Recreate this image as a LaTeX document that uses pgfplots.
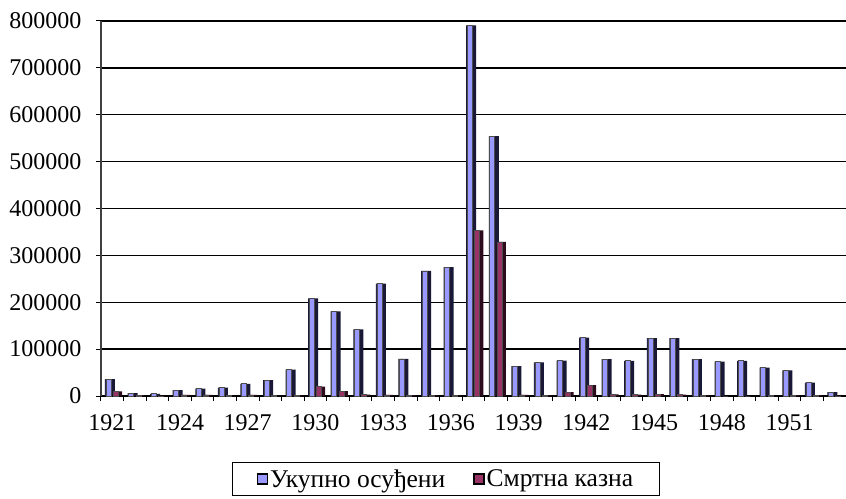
\documentclass[border=0pt]{standalone}
\usepackage{fontspec}
\setmainfont{Liberation Serif}
\usepackage{pgfplots}
\usepackage{pgfplotstable}
\pgfplotsset{compat=1.18}
\definecolor{bluef}{RGB}{153,153,255}
\definecolor{redf}{RGB}{153,51,102}
\definecolor{blueb}{RGB}{25,25,55}
\definecolor{redb}{RGB}{45,10,28}
\pgfplotstableread{
x tot death
0 35829 9701
1 6003 1962
2 4794 414
3 12425 2550
4 15995 2433
5 17804 990
6 26036 2363
7 33757 869
8 56220 2109
9 208068 20201
10 180696 10651
11 141919 2728
12 239664 2154
13 78999 2056
14 267076 1229
15 274670 1118
16 790665 353074
17 554258 328618
18 63889 2552
19 71806 1649
20 75411 8011
21 124406 23278
22 78441 3579
23 75109 3029
24 123248 4252
25 123294 2896
26 78810 1105
27 73269 0
28 75125 0
29 60641 475
30 54775 1609
31 28800 1612
32 8403 198
}\data
\begin{document}
\begin{tikzpicture}
\begin{axis}[name=ax, scale only axis, width=745pt, height=375pt,
  xmin=-0.5, xmax=32.5, ymin=0, ymax=800000,
  axis lines*=left,
  ybar,
  xtick={-0.5,0.5,...,32.5}, xticklabels={},
  extra x ticks={0,3,...,30},
  extra x tick labels={1921,1924,1927,1930,1933,1936,1939,1942,1945,1948,1951},
  extra x tick style={major tick length=0pt, grid=none},
  ytick={0,100000,...,800000},
  ymajorgrids, grid style={black, line width=1.5pt},
  tick align=outside, major tick length=5pt,
  tick style={black, line width=1pt},
  axis line style={black, line width=1.5pt},
  y axis line style={line width=2.5pt, black!75},
  scaled y ticks=false,
  yticklabel style={/pgf/number format/fixed, /pgf/number format/1000 sep={}, xshift=-11pt},
  xticklabel style={yshift=-15pt},
  /pgf/number format/assume math mode=true,
  tick label style={font=\fontsize{24}{28}\selectfont},
  legend style={at={(0.176,-0.176)}, anchor=north west, draw=black, line width=1pt,
    font=\fontsize{25.5}{30}\selectfont, legend columns=2,
    /tikz/every even column/.append style={column sep=26pt},
    inner xsep=24pt, inner ysep=5pt},
  legend image code/.code={\draw[#1,draw=black,line width=1.5pt] (0pt,-5pt) rectangle (10pt,5pt);},
]
\addplot[forget plot, fill=blueb, draw=none, bar width=10pt, bar shift=-2.3pt] table[x=x,y=tot]{\data};
\addplot[fill=bluef, draw=black!70, line width=0.6pt, bar width=5pt, bar shift=-3.8pt] table[x=x,y=tot]{\data};
\addplot[forget plot, fill=redb, draw=none, bar width=9.5pt, bar shift=5pt] table[x=x,y=death]{\data};
\addplot[fill=redf, draw=black!70, line width=0.6pt, bar width=5pt, bar shift=3.5pt] table[x=x,y=death]{\data};
\legend{Укупно осуђени, Смртна казна}
\end{axis}
\pgfresetboundingbox
\path (ax.south west) ++(-101pt,-102pt) rectangle ++(846pt,498pt);
\end{tikzpicture}
\end{document}
